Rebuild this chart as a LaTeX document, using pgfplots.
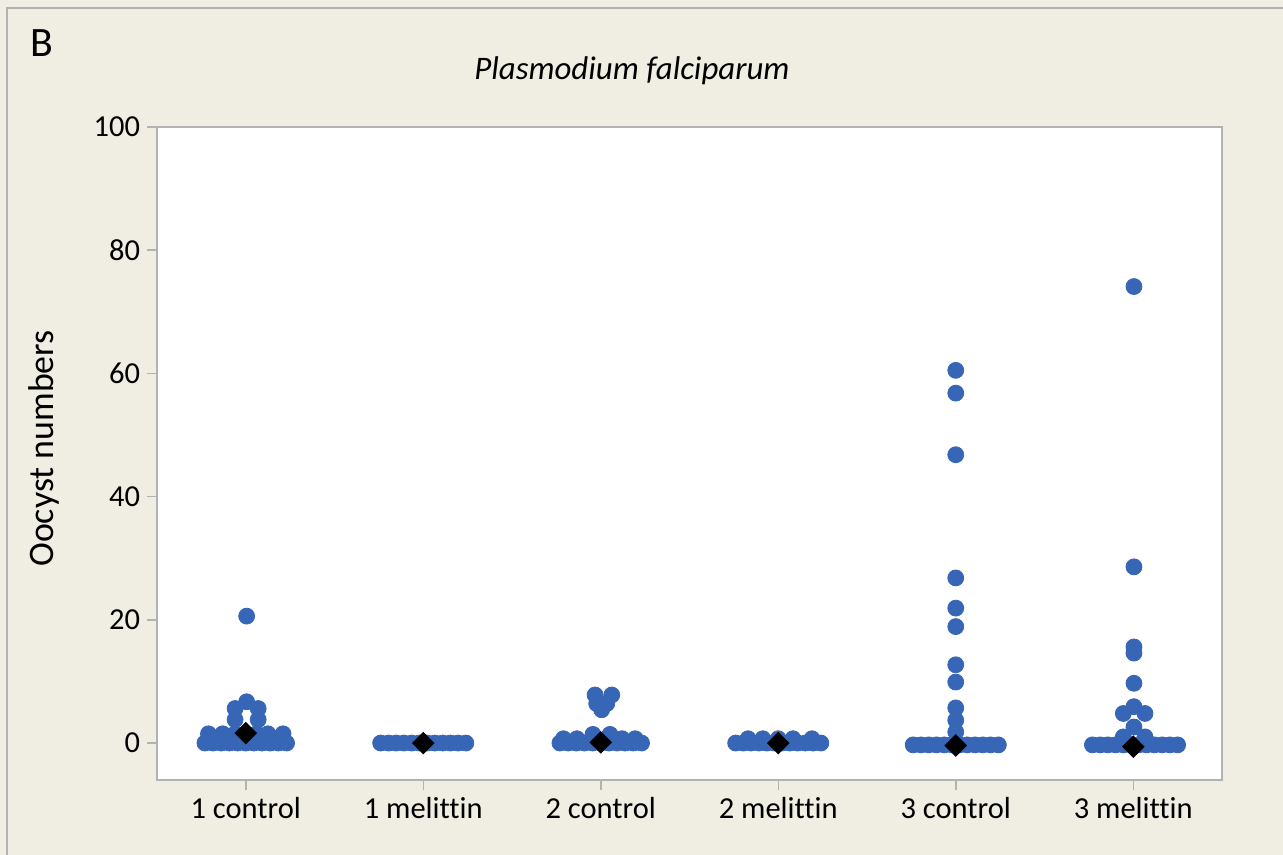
\documentclass[border=0pt]{standalone}
\usepackage{pgfplots}
\pgfplotsset{compat=1.18}
\usepackage{fontspec}
\setmainfont{Carlito}[Ligatures=NoCommon]
\definecolor{bg}{RGB}{240,237,227}
\definecolor{dotc}{RGB}{56,102,182}
\definecolor{framec}{RGB}{178,178,178}
\begin{document}
\begin{tikzpicture}
\useasboundingbox (0,0) rectangle (641.5bp,427.5bp);
\fill[bg] (0,0) rectangle (641.5bp,427.5bp);
\draw[framec, line width=1bp] (3.5bp,0) -- (3.5bp,423.5bp) -- (641.5bp,423.5bp);
\begin{axis}[
  at={(78.5bp,37.5bp)}, anchor=south west,
  scale only axis, width=532.5bp, height=326.5bp,
  xmin=-0.5, xmax=5.5, ymin=-6, ymax=100,
  axis background/.style={fill=white},
  axis line style={framec, line width=0.75bp},
  xtick={0,1,2,3,4,5},
  xticklabels={1 control, 1 melittin, 2 control, 2 melittin, 3 control, 3 melittin},
  ytick={0,20,40,60,80,100},
  xtick pos=left, ytick pos=left,
  tick align=outside,
  major tick length=5bp,
  every tick/.style={framec, line width=0.75bp},
  tick label style={font=\fontsize{15.3}{18}\selectfont, black},
  /pgf/number format/assume math mode=true,
  clip=false,
]
% 1 control
\addplot[only marks, mark=*, mark size=4pt, mark options={draw=dotc, fill=dotc}] table {
x y
-0.23 0
-0.184 0
-0.138 0
-0.092 0
-0.046 0
0 0
0.046 0
0.092 0
0.138 0
0.184 0
0.23 0
-0.21 1.5
-0.13 1.5
-0.06 1.5
0.06 1.5
0.125 1.5
0.21 1.5
-0.06 3.8
0.07 3.8
-0.06 5.6
0.07 5.6
0.005 6.7
0.005 20.6
};
% 1 melittin
\addplot[only marks, mark=*, mark size=4pt, mark options={draw=dotc, fill=dotc}] table {
x y
0.76 0
0.804 0
0.847 0
0.891 0
0.935 0
0.978 0
1.022 0
1.065 0
1.109 0
1.153 0
1.196 0
1.24 0
};
% 2 control
\addplot[only marks, mark=*, mark size=4pt, mark options={draw=dotc, fill=dotc}] table {
x y
1.77 0
1.816 0
1.862 0
1.908 0
1.954 0
2.0 0
2.046 0
2.092 0
2.138 0
2.184 0
2.23 0
1.79 0.7
1.866 0.7
1.956 1.4
2.052 1.4
2.12 0.7
2.194 0.7
1.968 7.8
2.062 7.8
1.977 6.4
2.034 6.4
2.005 5.4
};
% 2 melittin
\addplot[only marks, mark=*, mark size=4pt, mark options={draw=dotc, fill=dotc}] table {
x y
2.76 0
2.804 0
2.847 0
2.891 0
2.935 0
2.978 0
3.022 0
3.065 0
3.109 0
3.153 0
3.196 0
3.24 0
2.83 0.7
2.913 0.7
3.0 0.7
3.083 0.7
3.19 0.7
};
% 3 control
\addplot[only marks, mark=*, mark size=4pt, mark options={draw=dotc, fill=dotc}] table {
x y
3.76 -0.3
3.804 -0.3
3.847 -0.3
3.891 -0.3
3.935 -0.3
3.978 -0.3
4.022 -0.3
4.065 -0.3
4.109 -0.3
4.153 -0.3
4.196 -0.3
4.24 -0.3
4.0 1.8
4.0 3.7
4.0 5.7
4.0 9.9
4.0 12.7
4.0 18.9
4.0 21.9
4.0 26.8
4.0 46.8
4.0 56.8
4.0 60.5
};
% 3 melittin
\addplot[only marks, mark=*, mark size=4pt, mark options={draw=dotc, fill=dotc}] table {
x y
4.77 -0.3
4.814 -0.3
4.857 -0.3
4.901 -0.3
4.945 -0.3
4.988 -0.3
5.032 -0.3
5.075 -0.3
5.119 -0.3
5.163 -0.3
5.206 -0.3
5.25 -0.3
4.944 1.0
5.066 1.0
5.004 2.6
4.944 4.8
5.066 4.8
5.004 5.9
5.004 9.7
5.004 14.6
5.004 15.6
5.004 28.6
5.004 74.1
};
% means
\addplot[only marks, mark=square*, mark size=3.8pt, mark options={rotate=45, draw=black, fill=black}] table {
x y
0 1.6
1 0
2 0.1
3 0
4 -0.4
5 -0.6
};
\end{axis}
\node[anchor=base west, inner sep=0, font=\fontsize{21}{24}\selectfont] at (15bp,399bp) {B};
\node[anchor=base, inner sep=0, font=\itshape\fontsize{16.5}{20}\selectfont] at (316bp,387.5bp) {Plasmodium falciparum};
\node[rotate=90, anchor=base, inner sep=0, font=\fontsize{18}{22}\selectfont] at (26.5bp,203.25bp) {Oocyst numbers};
\end{tikzpicture}
\end{document}
